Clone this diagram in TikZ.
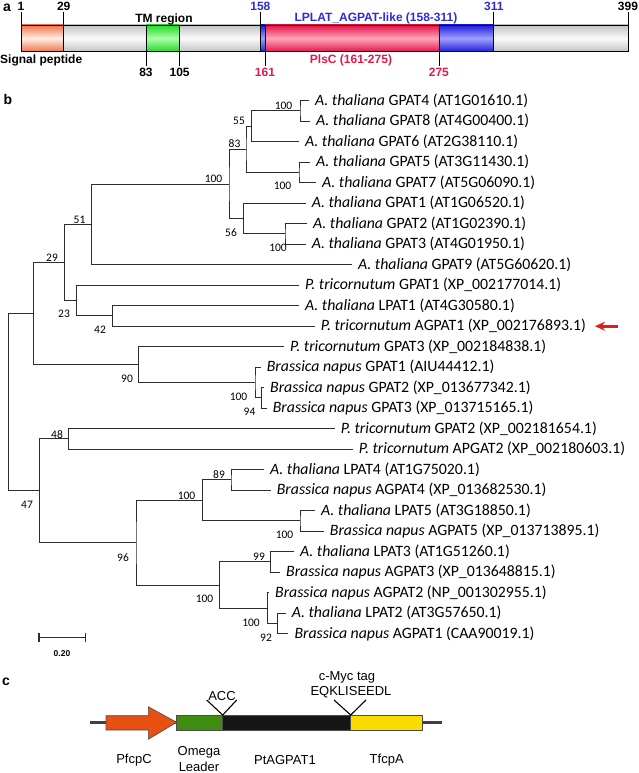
\documentclass[tikz,border=0pt]{standalone}
\usepackage{fontspec}
\setmainfont{Carlito}
\newfontfamily\arialfont{Liberation Sans}
\usetikzlibrary{arrows.meta}

\definecolor{treegray}{RGB}{45,45,45}
\definecolor{sigc}{RGB}{240,115,75}
\definecolor{sigl}{RGB}{255,238,228}
\definecolor{barc}{RGB}{195,195,195}
\definecolor{barl}{RGB}{250,250,250}
\definecolor{tmc}{RGB}{40,215,40}
\definecolor{tml}{RGB}{170,255,170}
\definecolor{lplc}{RGB}{30,30,215}
\definecolor{lpll}{RGB}{160,160,255}
\definecolor{plsc}{RGB}{228,20,75}
\definecolor{plsl}{RGB}{255,165,185}
\definecolor{lpltxt}{RGB}{45,45,215}
\definecolor{plstxt}{RGB}{225,25,70}
\definecolor{promc}{RGB}{232,80,18}
\definecolor{omegac}{RGB}{62,140,18}
\definecolor{genec}{RGB}{22,22,22}
\definecolor{termc}{RGB}{250,220,0}
\definecolor{arrowred}{RGB}{220,30,30}

\newcommand{\Ath}{\textit{A. thaliana}}
\newcommand{\Ptr}{\textit{P. tricornutum}}
\newcommand{\Bna}{\textit{Brassica napus}}

\tikzset{
  branch/.style={draw=treegray, line width=1pt},
  leaf/.style={anchor=west, inner xsep=6pt, inner ysep=0pt, font=\fontsize{15.8}{17}\selectfont},
  boot/.style={inner sep=0pt, font=\fontsize{11.5}{12}\selectfont},
  dom/.style={inner sep=0pt, font=\arialfont\bfseries\fontsize{12}{13}\selectfont},
  panel/.style={inner sep=0pt, font=\arialfont\bfseries\fontsize{14}{15}\selectfont},
  part/.style={inner sep=0pt, font=\arialfont\fontsize{13}{14}\selectfont},
  box/.style={draw=black!70, line width=0.6pt}
}

\begin{document}
\begin{tikzpicture}[x=1pt,y=-1pt]
\useasboundingbox (0,0) rectangle (638,773);

% panel labels
\node[panel] (pa) at (7,8) {a};
\node[panel] (pb) at (8,99) {b};
\node[panel] (pc) at (6,682) {c};

% ---- a: domain bar
\shade[top color=sigc, bottom color=sigc, middle color=sigl] (21,25) rectangle (63.7,51.7);
\shade[top color=barc, bottom color=barc, middle color=barl] (63.7,25) rectangle (146,51.7);
\shade[top color=tmc, bottom color=tmc, middle color=tml] (146,25) rectangle (179.6,51.7);
\shade[top color=barc, bottom color=barc, middle color=barl] (179.6,25) rectangle (260.4,51.7);
\shade[top color=lplc, bottom color=lplc, middle color=lpll] (260.4,25) rectangle (265,51.7);
\shade[top color=plsc, bottom color=plsc, middle color=plsl] (265,25) rectangle (438.9,51.7);
\shade[top color=lplc, bottom color=lplc, middle color=lpll] (438.9,25) rectangle (493.8,51.7);
\shade[top color=barc, bottom color=barc, middle color=barl] (493.8,25) rectangle (628,51.7);
\draw[line width=0.8pt] (21,25) rectangle (628,51.7);
\foreach \x in {63.7,146,179.6,260.4,265,438.9,493.8}
  \draw[line width=0.7pt] (\x,25) -- (\x,51.7);
\foreach \x in {21,63.7,260.4,493.8,628}
  \draw[line width=0.7pt] (\x,12) -- (\x,25);
\foreach \x in {146,179.6,265,438.9}
  \draw[line width=0.7pt] (\x,51.7) -- (\x,66);

\node[dom] (r1) at (21,6) {1};
\node[dom] (r29) at (63.7,6) {29};
\node[dom, text=lpltxt] (r158) at (260.4,6) {158};
\node[dom, text=lpltxt] (r311) at (493.8,6) {311};
\node[dom] (r399) at (628,6) {399};
\node[dom] (r83) at (146,72.5) {83};
\node[dom] (r105) at (179.6,72.5) {105};
\node[dom, text=plstxt] (r161) at (265,72.5) {161};
\node[dom, text=plstxt] (r275) at (438.9,72.5) {275};
\node[dom] (tm) at (164,19) {TM region};
\node[dom, text=lpltxt] (lplat) at (376,18) {LPLAT\_AGPAT-like (158-311)};
\node[dom, anchor=west] (sig) at (0,60) {Signal peptide};
\node[dom, text=plstxt] (plsc) at (351,60) {PlsC (161-275)};

% ---- b: tree, leaf tips
\coordinate (t1) at (309,100.7);
\coordinate (t2) at (310,121.2);
\coordinate (t3) at (299,141.7);
\coordinate (t4) at (310,162.2);
\coordinate (t5) at (316,182.7);
\coordinate (t6) at (305.7,203.2);
\coordinate (t7) at (307,223.7);
\coordinate (t8) at (305.7,244.2);
\coordinate (t9) at (352,264.7);
\coordinate (t10) at (299,285.2);
\coordinate (t11) at (299,305.7);
\coordinate (t12) at (314.7,326.2);
\coordinate (t13) at (284,346.7);
\coordinate (t14) at (260.7,367.2);
\coordinate (t15) at (264,387.7);
\coordinate (t16) at (266.7,408.2);
\coordinate (t17) at (334.7,428.7);
\coordinate (t18) at (352.7,449.2);
\coordinate (t19) at (264,469.7);
\coordinate (t20) at (270.7,490.2);
\coordinate (t21) at (315,510.7);
\coordinate (t22) at (323.7,531.2);
\coordinate (t23) at (294,551.7);
\coordinate (t24) at (280,572.2);
\coordinate (t25) at (269,592.7);
\coordinate (t26) at (285.7,613.2);
\coordinate (t27) at (288.3,633.7);

% internal nodes
\coordinate (nA) at (300,110.95);
\coordinate (nB) at (251.7,126.3);
\coordinate (nC) at (299,172.45);
\coordinate (nD) at (246,149.4);
\coordinate (nE) at (285,233.95);
\coordinate (nF) at (243.3,218.6);
\coordinate (nG) at (229,184.5);
\coordinate (nH) at (91.7,224.35);
\coordinate (nI) at (112.7,315.95);
\coordinate (nJ) at (76.7,300.6);
\coordinate (nK) at (64.3,262.5);
\coordinate (nL) at (261.7,397.95);
\coordinate (nM) at (255,382.6);
\coordinate (nN) at (138.3,364.65);
\coordinate (nO) at (33.3,313.6);
\coordinate (nP) at (68.3,438.95);
\coordinate (nQ) at (231,479.95);
\coordinate (nR) at (300,520.95);
\coordinate (nS) at (202.3,500.45);
\coordinate (nT) at (270.7,561.95);
\coordinate (nU) at (277.7,623.45);
\coordinate (nV) at (267.3,608.1);
\coordinate (nW) at (219.3,585.5);
\coordinate (nX) at (136,542.7);
\coordinate (nY) at (39.3,490.8);
\coordinate (root) at (8.3,402.2);

% branches
\draw[branch] (t1) -| (nA) |- (t2);
\draw[branch] (nA) -| (nB) |- (t3);
\draw[branch] (t4) -| (nC) |- (t5);
\draw[branch] (nB) -| (nD) |- (nC);
\draw[branch] (t7) -| (nE) |- (t8);
\draw[branch] (t6) -| (nF) |- (nE);
\draw[branch] (nD) -| (nG) |- (nF);
\draw[branch] (nG) -| (nH) |- (t9);
\draw[branch] (t11) -| (nI) |- (t12);
\draw[branch] (t10) -| (nJ) |- (nI);
\draw[branch] (nH) -| (nK) |- (nJ);
\draw[branch] (t15) -| (nL) |- (t16);
\draw[branch] (t14) -| (nM) |- (nL);
\draw[branch] (t13) -| (nN) |- (nM);
\draw[branch] (nK) -| (nO) |- (nN);
\draw[branch] (t17) -| (nP) |- (t18);
\draw[branch] (t19) -| (nQ) |- (t20);
\draw[branch] (t21) -| (nR) |- (t22);
\draw[branch] (nQ) -| (nS) |- (nR);
\draw[branch] (t23) -| (nT) |- (t24);
\draw[branch] (t26) -| (nU) |- (t27);
\draw[branch] (t25) -| (nV) |- (nU);
\draw[branch] (nT) -| (nW) |- (nV);
\draw[branch] (nS) -| (nX) |- (nW);
\draw[branch] (nP) -| (nY) |- (nX);
\draw[branch] (nO) -| (root) |- (nY);

% leaf names
\node[leaf] (l1) at (t1) {\Ath\ GPAT4 (AT1G01610.1)};
\node[leaf] (l2) at (t2) {\Ath\ GPAT8 (AT4G00400.1)};
\node[leaf] (l3) at (t3) {\Ath\ GPAT6 (AT2G38110.1)};
\node[leaf] (l4) at (t4) {\Ath\ GPAT5 (AT3G11430.1)};
\node[leaf] (l5) at (t5) {\Ath\ GPAT7 (AT5G06090.1)};
\node[leaf] (l6) at (t6) {\Ath\ GPAT1 (AT1G06520.1)};
\node[leaf] (l7) at (t7) {\Ath\ GPAT2 (AT1G02390.1)};
\node[leaf] (l8) at (t8) {\Ath\ GPAT3 (AT4G01950.1)};
\node[leaf] (l9) at (t9) {\Ath\ GPAT9 (AT5G60620.1)};
\node[leaf] (l10) at (t10) {\Ptr\ GPAT1 (XP\_002177014.1)};
\node[leaf] (l11) at (t11) {\Ath\ LPAT1 (AT4G30580.1)};
\node[leaf] (l12) at (t12) {\Ptr\ AGPAT1 (XP\_002176893.1)};
\node[leaf] (l13) at (t13) {\Ptr\ GPAT3 (XP\_002184838.1)};
\node[leaf] (l14) at (t14) {\Bna\ GPAT1 (AIU44412.1)};
\node[leaf] (l15) at (t15) {\Bna\ GPAT2 (XP\_013677342.1)};
\node[leaf] (l16) at (t16) {\Bna\ GPAT3 (XP\_013715165.1)};
\node[leaf] (l17) at (t17) {\Ptr\ GPAT2 (XP\_002181654.1)};
\node[leaf] (l18) at (t18) {\Ptr\ APGAT2 (XP\_002180603.1)};
\node[leaf] (l19) at (t19) {\Ath\ LPAT4 (AT1G75020.1)};
\node[leaf] (l20) at (t20) {\Bna\ AGPAT4 (XP\_013682530.1)};
\node[leaf] (l21) at (t21) {\Ath\ LPAT5 (AT3G18850.1)};
\node[leaf] (l22) at (t22) {\Bna\ AGPAT5 (XP\_013713895.1)};
\node[leaf] (l23) at (t23) {\Ath\ LPAT3 (AT1G51260.1)};
\node[leaf] (l24) at (t24) {\Bna\ AGPAT3 (XP\_013648815.1)};
\node[leaf] (l25) at (t25) {\Bna\ AGPAT2 (NP\_001302955.1)};
\node[leaf] (l26) at (t26) {\Ath\ LPAT2 (AT3G57650.1)};
\node[leaf] (l27) at (t27) {\Bna\ AGPAT1 (CAA90019.1)};

% bootstrap values
\node[boot] (bA) at (283.5,105.5) {100};
\node[boot] (bB) at (239,121) {55};
\node[boot] (bC) at (282.5,186) {100};
\node[boot] (bD) at (234.5,144) {83};
\node[boot] (bE) at (278,248) {100};
\node[boot] (bF) at (231,232.5) {56};
\node[boot] (bG) at (213.5,179) {100};
\node[boot] (bH) at (79.5,219.5) {51};
\node[boot] (bK) at (52,257.5) {29};
\node[boot] (bJ) at (64,314) {23};
\node[boot] (bI) at (100,329.5) {42};
\node[boot] (bN) at (127,379) {90};
\node[boot] (bM) at (238.5,397) {100};
\node[boot] (bL) at (249.5,412) {94};
\node[boot] (bP) at (57,435) {48};
\node[boot] (bY) at (27,505) {47};
\node[boot] (bX) at (123,557.5) {96};
\node[boot] (bS) at (186.5,496) {100};
\node[boot] (bQ) at (219,474.5) {89};
\node[boot] (bR) at (284.5,535) {100};
\node[boot] (bW) at (204.5,599) {100};
\node[boot] (bT) at (259,557) {99};
\node[boot] (bV) at (251,622.5) {100};
\node[boot] (bU) at (266,637.5) {92};

% arrow to PtAGPAT1
\coordinate (ptail) at (618,326.2);
\draw[arrowred, line width=3pt, -{Stealth[length=10pt,width=9pt]}] (ptail) -- ([xshift=3pt]l12.east);

% scale bar
\coordinate (s0) at (38.3,637.3);
\coordinate (s1) at (86,637.3);
\draw[treegray, line width=1.4pt, |-|] (s0) -- (s1);
\node[inner sep=0pt, font=\arialfont\bfseries\fontsize{8.5}{9}\selectfont] (sl) at (62,654) {0.20};

% ---- c: construct
\draw[black!75, line width=2.6pt] (90,722.3) -- (441.7,722.3);
\draw[box, fill=promc] (106,715.7) -- (148.3,715.7) -- (148.3,706.7) -- (176.7,722.3)
  -- (148.3,739.3) -- (148.3,730) -- (106,730) -- cycle;
\draw[box, fill=omegac] (176.7,715) rectangle (222.7,730.7);
\draw[box, fill=genec] (222.7,715) rectangle (350.7,730.7);
\draw[box, fill=termc] (350.7,715) rectangle (422.7,730.7);
\draw[line width=1.1pt] (206.7,700) -- (222.7,715) -- (236.7,700);
\draw[line width=1.1pt] (334,700) -- (350.7,715) -- (366,700);

\node[part] (acc) at (222,696) {ACC};
\node[part] (myc) at (347,677) {c-Myc tag};
\node[part] (eqk) at (351,692.5) {EQKLISEEDL};
\node[part] (prom) at (134,760) {PfcpC};
\node[part] (omg) at (199,752) {Omega};
\node[part] (lead) at (199,767) {Leader};
\node[part] (gene) at (285,760) {PtAGPAT1};
\node[part] (term) at (386.7,760) {TfcpA};
\end{tikzpicture}
\end{document}
